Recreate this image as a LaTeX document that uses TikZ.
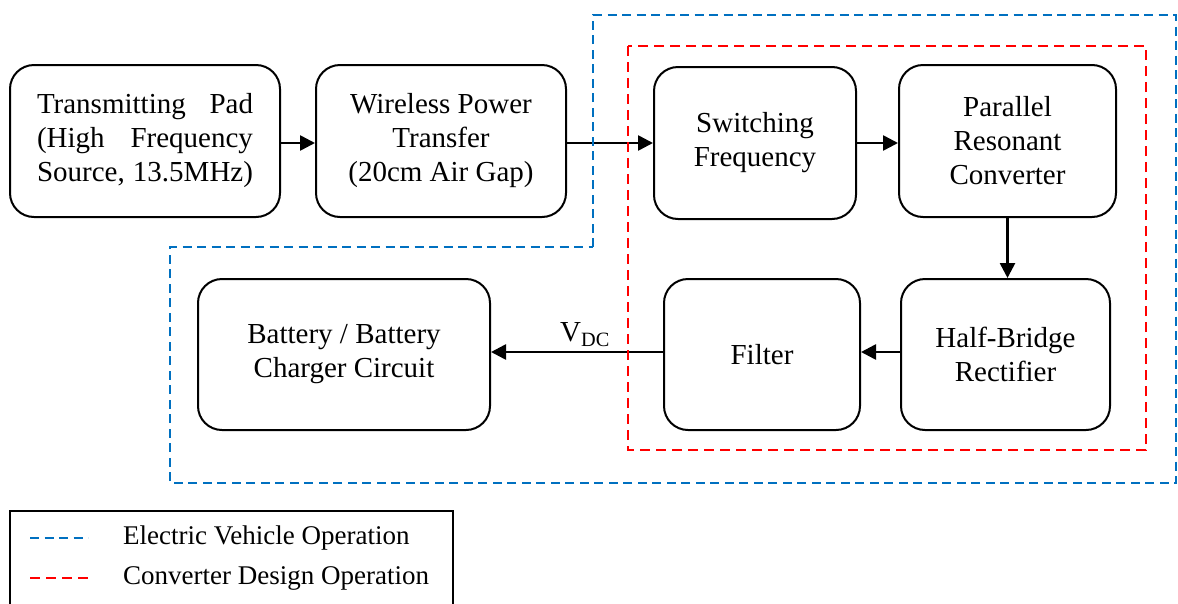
\documentclass[tikz,border=0pt]{standalone}
\usepackage{fontspec}
\setmainfont{Liberation Serif}
\usepackage{tikz}
\usetikzlibrary{arrows.meta,positioning}
\definecolor{evCol}{HTML}{0070C0}
\definecolor{cdCol}{HTML}{FF0000}
\tikzset{
  blk/.style={draw, rounded corners=24pt, line width=2pt, align=center,
              font=\fontsize{29}{34}\selectfont, inner sep=0pt},
  flow/.style={-{Triangle[length=15pt,width=15pt]}, line width=2.6pt},
  evline/.style={evCol, line width=2pt, dash pattern=on 9pt off 5.5pt},
  cdline/.style={cdCol, line width=2.2pt, dash pattern=on 10pt off 6pt},
  lgtxt/.style={anchor=west, font=\fontsize{27}{30}\selectfont, inner sep=0pt},
}
\newcommand{\jline}[2]{\hbox to 216pt{#1\hfill #2}}
\begin{document}
\begin{tikzpicture}[x=1pt,y=-1pt]
  \useasboundingbox (0,0) rectangle (1178,603);
  % top row
  \node[blk, minimum width=270pt, minimum height=152pt] (tx) at (145,141)
    {\jline{Transmitting}{Pad}\\ \jline{(High}{Frequency}\\ \jline{Source,}{13.5MHz)}};
  \node[blk, minimum width=250pt, minimum height=152pt] (wpt) at (441,141)
    {Wireless Power\\Transfer\\(20cm Air Gap)};
  \node[blk, minimum width=202pt, minimum height=152pt] (sw) at (755,143)
    {Switching\\Frequency};
  \node[blk, minimum width=217pt, minimum height=152pt] (prc) at (1007.5,141)
    {Parallel\\Resonant\\Converter};
  % bottom row
  \node[blk, minimum width=209pt, minimum height=151pt] (hbr) at (1005.5,354.5)
    {Half-Bridge\\Rectifier};
  \node[blk, minimum width=196pt, minimum height=151pt] (flt) at (762,354.5)
    {Filter};
  \node[blk, minimum width=292pt, minimum height=151pt] (bat) at (344,354.5)
    {Battery / Battery\\Charger Circuit};

  \draw[flow] (tx.east|-0,143) -- (wpt.west|-0,143);
  \draw[flow] (wpt.east|-0,143) -- (sw.west|-0,143);
  \draw[flow] (sw.east|-0,143) -- (prc.west|-0,143);
  \draw[flow] (prc.south) -- (prc.south|-hbr.north);
  \draw[flow] (hbr.west|-0,352) -- (flt.east|-0,352);
  \draw[flow] (flt.west|-0,352) -- node[above=1pt, xshift=8pt, font=\fontsize{29}{32}\selectfont]{V\textsubscript{DC}} (bat.east|-0,352);

  % operation boundaries
  \draw[evline] (593,247) -- (593,15) -- (1176,15) -- (1176,483) -- (170,483) -- (170,247) -- cycle;
  \draw[cdline] (628,46) rectangle (1146,450);

  % legend
  \draw[line width=1.5pt] (10,611) -- (10,511) -- (453,511) -- (453,611);
  \coordinate (ev0) at (30,538);
  \coordinate (cd0) at (30,578);
  \draw[evline] (ev0) -- ++(58,0);
  \draw[cdline] (cd0) -- ++(58,0);
  \node[lgtxt] (evtxt) at (123,538) {Electric Vehicle Operation};
  \node[lgtxt] (cdtxt) at (123,578) {Converter Design Operation};
\end{tikzpicture}
\end{document}
